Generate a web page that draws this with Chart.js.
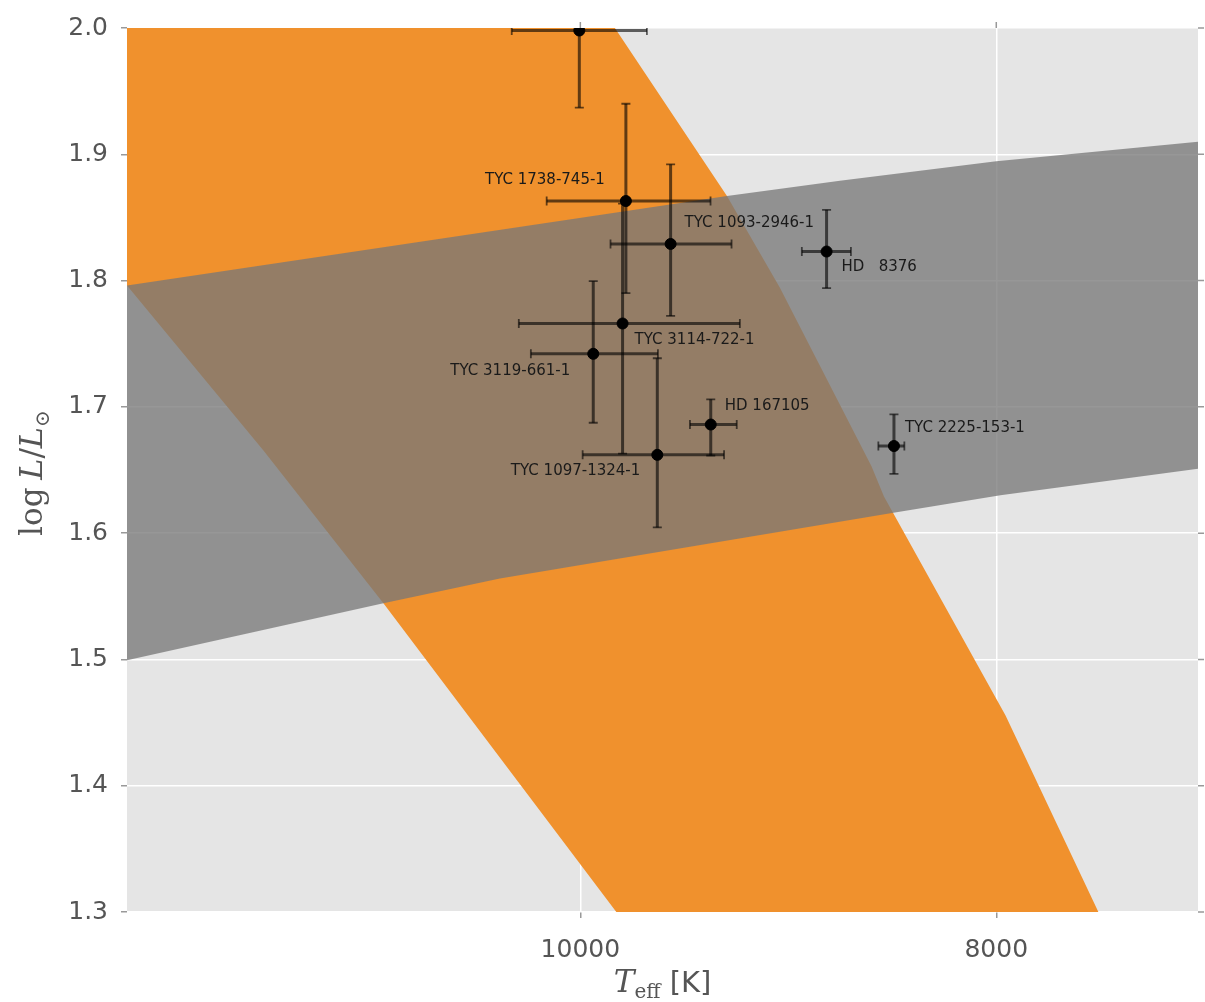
<!DOCTYPE html>
<html>
<head>
<meta charset="utf-8">
<title>HRD</title>
<script src="https://cdn.jsdelivr.net/npm/chart.js@4.4.1/dist/chart.umd.min.js"></script>
<style>
  html, body { margin: 0; padding: 0; background: #ffffff; }
  canvas { display: block; }
</style>
</head>
<body>
<canvas id="hrd" width="1205" height="1002"></canvas>
<script>
// tick labels
const xTicks = [10000, 8000];
const yTicks = [1.3, 1.4, 1.5, 1.6, 1.7, 1.8, 1.9, 2.0];

// stars (Teff, log L) with error bars
const starNames = ['', 'TYC 1738-745-1', 'TYC 1093-2946-1', 'HD   8376', 'TYC 3114-722-1',
                   'TYC 3119-661-1', 'HD 167105', 'TYC 1097-1324-1', 'TYC 2225-153-1'];
const teff       = [10005, 9781, 9566, 8816, 9797, 9938, 9373, 9630, 8492];
const logL       = [1.998, 1.863, 1.829, 1.823, 1.766, 1.742, 1.686, 1.662, 1.669];
const teffErrHot = [325, 381, 289, 119, 499, 300, 100, 359, 75];
const teffErrCool= [325, 407, 293, 117, 564, 311, 125, 321, 50];
const logLErrUp  = [0.061, 0.077, 0.063, 0.033, 0.095, 0.0575, 0.020, 0.0765, 0.025];
const logLErrDown= [0.061, 0.073, 0.057, 0.029, 0.103, 0.0546, 0.0245, 0.0575, 0.022];

// grey band (edges)
const grayUpperTeff = [12300, 12180, 9295, 8752, 8000, 7030, 6950];
const grayUpperLogL = [1.793, 1.796, 1.867, 1.879, 1.8945, 1.910, 1.911];
const grayLowerTeff = [6950, 7030, 7980, 8487, 10387, 10947, 12180, 12300];
const grayLowerLogL = [1.652, 1.651, 1.630, 1.6164, 1.564, 1.5444, 1.4993, 1.495];

// orange band (edges)
const orangeRightTeff = [10027, 9834, 9295, 9041, 8600, 8540, 7956, 7509, 7423];
const orangeRightLogL = [2.05, 2.0, 1.867, 1.7946, 1.6530, 1.6290, 1.4558, 1.3, 1.27];
const orangeLeftTeff  = [9690, 9827, 10947, 11524, 12180, 12400, 12400];
const orangeLeftLogL  = [1.27, 1.3, 1.5444, 1.6654, 1.796, 1.84, 2.05];

// label placement relative to the star (pixels)
const labelOffsets = [
    [0, 0, 'left'], [-21, -21, 'right'], [14, -21, 'left'], [15, 16, 'left'], [12, 17, 'left'],
    [-23, 17, 'right'], [14, -18, 'left'], [-17, 16, 'right'], [11, -18, 'left']
];

function toPoints(xs, ys) {
    return xs.map((v, i) => ({ x: v, y: ys[i] }));
}

const grayPolygon = toPoints(grayUpperTeff, grayUpperLogL).concat(toPoints(grayLowerTeff, grayLowerLogL));
const orangePolygon = toPoints(orangeRightTeff, orangeRightLogL).concat(toPoints(orangeLeftTeff, orangeLeftLogL));
const starPoints = toPoints(teff, logL);

// background of the plot area
const bgPlugin = {
    id: 'bg',
    beforeDraw(chart) {
        const { ctx, chartArea: a } = chart;
        ctx.save();
        ctx.fillStyle = '#e5e5e5';
        ctx.fillRect(a.left, a.top, a.right - a.left, a.bottom - a.top);
        ctx.restore();
    }
};

// error bars under the star markers
const errPlugin = {
    id: 'errbars',
    beforeDatasetDraw(chart, args) {
        if (args.index !== 0) return;
        const { ctx, chartArea: a, scales: { x, y } } = chart;
        ctx.save();
        ctx.beginPath();
        ctx.rect(a.left, a.top, a.right - a.left, a.bottom - a.top);
        ctx.clip();
        ctx.strokeStyle = 'rgba(0,0,0,0.6)';
        for (let i = 0; i < teff.length; i++) {
            const px = x.getPixelForValue(teff[i]);
            const py = y.getPixelForValue(logL[i]);
            const xl = x.getPixelForValue(teff[i] + teffErrHot[i]);
            const xr = x.getPixelForValue(teff[i] - teffErrCool[i]);
            const yt = y.getPixelForValue(logL[i] + logLErrUp[i]);
            const yb = y.getPixelForValue(logL[i] - logLErrDown[i]);
            ctx.lineWidth = 3;
            ctx.beginPath();
            ctx.moveTo(xl, py); ctx.lineTo(xr, py);
            ctx.stroke();
            ctx.beginPath();
            ctx.moveTo(px, yt); ctx.lineTo(px, yb);
            ctx.stroke();
            // caps
            ctx.lineWidth = 1.8;
            ctx.beginPath();
            ctx.moveTo(xl, py - 4.5); ctx.lineTo(xl, py + 4.5);
            ctx.moveTo(xr, py - 4.5); ctx.lineTo(xr, py + 4.5);
            ctx.moveTo(px - 4.5, yt); ctx.lineTo(px + 4.5, yt);
            ctx.moveTo(px - 4.5, yb); ctx.lineTo(px + 4.5, yb);
            ctx.stroke();
        }
        ctx.restore();
    }
};

// star names, outer tick marks and axis titles
const textPlugin = {
    id: 'texts',
    afterDraw(chart) {
        const { ctx, chartArea: a, scales: { x, y } } = chart;
        ctx.save();
        ctx.fillStyle = '#1a1a1a';
        ctx.font = '15px "DejaVu Sans"';
        ctx.textBaseline = 'middle';
        starNames.forEach((name, i) => {
            if (!name) return;
            const off = labelOffsets[i];
            ctx.textAlign = off[2];
            ctx.fillText(name, x.getPixelForValue(teff[i]) + off[0], y.getPixelForValue(logL[i]) + off[1]);
        });

        // ticks on top and right
        ctx.strokeStyle = '#999';
        ctx.lineWidth = 1.5;
        ctx.beginPath();
        xTicks.forEach(v => {
            const px = x.getPixelForValue(v);
            ctx.moveTo(px, a.top); ctx.lineTo(px, a.top - 6);
        });
        yTicks.forEach(v => {
            const py = y.getPixelForValue(v);
            ctx.moveTo(a.right, py); ctx.lineTo(a.right + 6, py);
        });
        ctx.stroke();

        // x title: T_eff [K]
        ctx.fillStyle = '#555';
        ctx.textAlign = 'left';
        ctx.textBaseline = 'alphabetic';
        const fT = 'italic 31px "DejaVu Serif"', fSub = '20px "DejaVu Serif"', fK = '29px "DejaVu Sans"';
        ctx.font = fT; const wT = ctx.measureText('T').width;
        ctx.font = fSub; const wSub = ctx.measureText('eff').width;
        ctx.font = fK; const wK = ctx.measureText(' [K]').width;
        let cx = (a.left + a.right) / 2 - (wT + wSub + wK) / 2;
        const by = 992;
        ctx.font = fT; ctx.fillText('T', cx, by); cx += wT;
        ctx.font = fSub; ctx.fillText('eff', cx, by + 6); cx += wSub;
        ctx.font = fK; ctx.fillText(' [K]', cx, by);

        // y title: log L/L_sun
        ctx.save();
        ctx.translate(42, (a.top + a.bottom) / 2 + 3);
        ctx.rotate(-Math.PI / 2);
        const parts = [
            ['log', '31px "DejaVu Serif"', 0],
            [' ', '24px "DejaVu Serif"', 0],
            ['L', 'italic 32px "DejaVu Serif"', 0],
            ['/', '31px "DejaVu Serif"', 0],
            ['L', 'italic 32px "DejaVu Serif"', 0],
            ['\u2299', '20px "DejaVu Serif"', 7]
        ];
        let total = 0;
        parts.forEach(p => { ctx.font = p[1]; p.push(ctx.measureText(p[0]).width); total += p[3]; });
        let tx = -total / 2;
        parts.forEach(p => { ctx.font = p[1]; ctx.fillText(p[0], tx, p[2]); tx += p[3]; });
        ctx.restore();
        ctx.restore();
    }
};

const ctx = document.getElementById('hrd').getContext('2d');
const chart = new Chart(ctx, {
    type: 'scatter',
    data: {
        datasets: [
            {
                label: 'stars',
                data: starPoints,
                backgroundColor: '#000',
                borderColor: '#000',
                pointRadius: 5.5,
                pointHoverRadius: 5.5
            },
            {
                label: 'grey band',
                data: grayPolygon,
                showLine: true,
                fill: 'shape',
                backgroundColor: 'rgba(120,120,120,0.77)',
                borderColor: 'rgba(0,0,0,0)',
                borderWidth: 0,
                pointRadius: 0,
                tension: 0
            },
            {
                label: 'orange band',
                data: orangePolygon,
                showLine: true,
                fill: 'shape',
                backgroundColor: 'rgb(240,145,45)',
                borderColor: 'rgba(0,0,0,0)',
                borderWidth: 0,
                pointRadius: 0,
                tension: 0
            }
        ]
    },
    options: {
        responsive: false,
        animation: false,
        events: [],
        layout: { padding: { top: 27, right: 7, left: 0, bottom: 0 } },
        plugins: {
            legend: { display: false },
            tooltip: { enabled: false }
        },
        scales: {
            x: {
                type: 'linear',
                reverse: true,
                min: 7030,
                max: 12180,
                afterBuildTicks: scale => { scale.ticks = xTicks.map(v => ({ value: v })); },
                afterFit: scale => { scale.height = 90; },
                border: { display: false },
                grid: { color: '#ffffff', lineWidth: 1.5, tickLength: 6, tickColor: '#999' },
                ticks: {
                    color: '#555',
                    font: { family: 'DejaVu Sans', size: 25 },
                    padding: 17,
                    maxRotation: 0,
                    callback: v => String(v)
                }
            },
            y: {
                type: 'linear',
                min: 1.3,
                max: 2.0,
                afterBuildTicks: scale => { scale.ticks = yTicks.map(v => ({ value: v })); },
                afterFit: scale => { scale.width = 127; },
                border: { display: false },
                grid: { color: '#ffffff', lineWidth: 1.5, tickLength: 6, tickColor: '#999' },
                ticks: {
                    color: '#555',
                    font: { family: 'DejaVu Sans', size: 25 },
                    padding: 13,
                    callback: v => v.toFixed(1)
                }
            }
        }
    },
    plugins: [bgPlugin, errPlugin, textPlugin]
});
</script>
</body>
</html>
